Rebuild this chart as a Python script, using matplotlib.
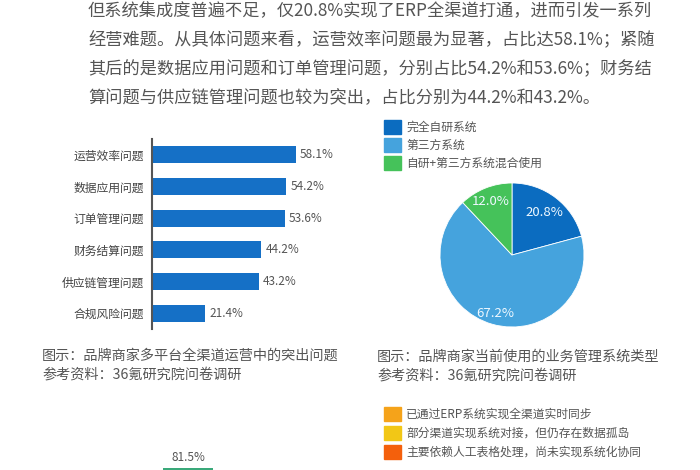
import matplotlib
matplotlib.use("Agg")
import matplotlib.pyplot as plt
from matplotlib.patches import Rectangle

plt.rcParams["font.family"] = ["Noto Sans CJK SC", "DejaVu Sans"]

# --- data ---
paragraph = [
    "但系统集成度普遍不足，仅20.8%实现了ERP全渠道打通，进而引发一系列",
    "经营难题。从具体问题来看，运营效率问题最为显著，占比达58.1%；紧随",
    "其后的是数据应用问题和订单管理问题，分别占比54.2%和53.6%；财务结",
    "算问题与供应链管理问题也较为突出，占比分别为44.2%和43.2%。",
]

problems = ["运营效率问题", "数据应用问题", "订单管理问题",
            "财务结算问题", "供应链管理问题", "合规风险问题"]
problem_pct = [58.1, 54.2, 53.6, 44.2, 43.2, 21.4]

sys_types = ["完全自研系统", "第三方系统", "自研+第三方系统混合使用"]
sys_pct = [20.8, 67.2, 12.0]

caption_left = ["图示：品牌商家多平台全渠道运营中的突出问题", "参考资料：36氪研究院问卷调研"]
caption_right = ["图示：品牌商家当前使用的业务管理系统类型", "参考资料：36氪研究院问卷调研"]

sync_labels = ["已通过ERP系统实现全渠道实时同步",
               "部分渠道实现系统对接，但仍存在数据孤岛",
               "主要依赖人工表格处理，尚未实现系统化协同"]
sync_first = 81.5

# --- styling ---
W, H = 700, 470
bar_color = "#1570c6"
pie_colors = ["#0b6cc0", "#45a3dd", "#45c25a"]
sync_colors = ["#f5a31a", "#f2c716", "#f4600c"]
text_gray = "#555555"


def frac(x, y, w, h):
    # pixel box (top-left origin) -> figure fraction
    return [x / W, 1 - (y + h) / H, w / W, h / H]


fig = plt.figure(figsize=(7, 4.7), dpi=100)
fig.patch.set_facecolor("white")

# overlay for free text in pixel coordinates
ov = fig.add_axes([0, 0, 1, 1])
ov.set_xlim(0, W)
ov.set_ylim(H, 0)
ov.axis("off")

for i, line in enumerate(paragraph):
    ov.text(88, 11 + i * 29, line, fontsize=12.4, color=text_gray, va="center", ha="left")

for i, line in enumerate(caption_left):
    ov.text(42, 356 + i * 19, line, fontsize=10.2, color=text_gray, va="center")
for i, line in enumerate(caption_right):
    ov.text(377, 357 + i * 19, line, fontsize=10.2, color=text_gray, va="center")

# pie legend
for i, (lab, col) in enumerate(zip(sys_types, pie_colors)):
    yc = 127 + i * 18
    ov.add_patch(Rectangle((384, yc - 7), 17, 14, color=col))
    ov.text(406, yc, lab, fontsize=8.5, color=text_gray, va="center")

# sync legend
for i, (lab, col) in enumerate(zip(sync_labels, sync_colors)):
    yc = 414 + i * 19
    ov.add_patch(Rectangle((384, yc - 7), 17, 14, color=col))
    ov.text(406, yc, lab, fontsize=8.5, color=text_gray, va="center")

# --- horizontal bar chart ---
ax = fig.add_axes(frac(152, 139, 198, 190))
ypos = list(range(len(problems)))
bars = ax.barh(ypos, problem_pct, height=0.54, color=bar_color)
ax.set_ylim(5.5, -0.5)
ax.set_xlim(0, 80)
ax.set_yticks(ypos)
ax.set_yticklabels(problems, fontsize=8.5, color="#444444")
ax.tick_params(axis="y", length=0, pad=6)
ax.set_xticks([])
for s in ["top", "right", "bottom"]:
    ax.spines[s].set_visible(False)
ax.spines["left"].set_color("#555555")
ax.spines["left"].set_linewidth(1.5)
ax.bar_label(bars, labels=[f"{v:.1f}%" for v in problem_pct], padding=3,
             fontsize=8.5, color=text_gray)
ax.patch.set_alpha(0)

# --- pie chart ---
pax = fig.add_axes(frac(512 - 72, 255 - 72, 144, 144))
wedges, _ = pax.pie(sys_pct, colors=pie_colors, startangle=90, counterclock=False,
                    radius=1, wedgeprops=dict(edgecolor="white", linewidth=0.6))
pax.set_xlim(-1, 1)
pax.set_ylim(-1, 1)
pax.set_aspect("equal")
import numpy as np
label_r = [0.74, 0.84, 0.8]
for w, v, r in zip(wedges, sys_pct, label_r):
    ang = np.deg2rad((w.theta1 + w.theta2) / 2)
    pax.text(r * np.cos(ang), r * np.sin(ang), f"{v:.1f}%", ha="center", va="center",
             fontsize=9.5, color="#eef8ff")

# --- partial bottom chart (cut off by the frame) ---
bax = fig.add_axes(frac(140, 394, 96, 400))
bax.bar([0], [sync_first], width=0.52, color="#3aa97a")
bax.set_xlim(-0.5, 0.5)
bax.set_ylim(0, 100)
bax.axis("off")
bax.annotate(f"{sync_first:.1f}%", (0, sync_first), xytext=(0, 3), textcoords="offset points",
             ha="center", va="bottom", fontsize=8.5, color=text_gray, annotation_clip=False)

fig.savefig("out.png", dpi=100)
